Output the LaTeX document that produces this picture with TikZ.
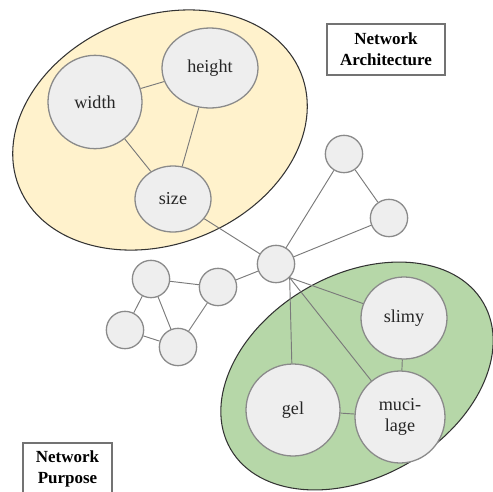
\documentclass[tikz,border=0pt]{standalone}
\usepackage{fontspec}
\setmainfont{Liberation Serif}
\usetikzlibrary{shapes.geometric}

\definecolor{archfill}{HTML}{FFF2CC}
\definecolor{purposefill}{HTML}{B6D7A8}
\definecolor{termfill}{HTML}{EEEEEE}
\definecolor{termline}{HTML}{8A8A8A}
\definecolor{linkline}{HTML}{7A7A7A}

\tikzstyle{term}=[ellipse, draw=termline, line width=1.1pt, fill=termfill, inner sep=0pt,
  font=\fontsize{15.5}{18}\selectfont, text=black!85, align=center]
\tikzstyle{dot}=[term, minimum width=1.12cm, minimum height=1.12cm]
\tikzstyle{link}=[draw=linkline, line width=0.8pt]
\tikzstyle{group}=[draw=black!80, line width=0.9pt]
\tikzstyle{tag}=[draw=black!55, line width=0.9pt, fill=white, inner sep=0pt, align=center,
  font=\fontsize{14.5}{18}\selectfont\bfseries]

\begin{document}
\begin{tikzpicture}[x=0.03cm, y=-0.03cm]
    \useasboundingbox (0,0) rectangle (493,491);

    % the two groups
    \draw [group, fill=archfill, rotate around={22:(160,130)}] (160,130) ellipse (152 and 114);
    \draw [group, fill=purposefill, rotate around={30:(357,376)}] (357,376) ellipse (146 and 101);

    % terms
    \node [term, minimum width=2.82cm, minimum height=2.8cm] (width) at (95,102) {width};
    \node [term, minimum width=2.88cm, minimum height=2.4cm] (height) at (210,68) {height};
    \node [term, minimum width=2.28cm, minimum height=1.98cm] (size) at (173,199) {size};
    \node [term, minimum width=2.58cm, minimum height=2.46cm] (slimy) at (404,318) {slimy};
    \node [term, minimum width=2.82cm, minimum height=2.76cm] (gel) at (293,410) {gel};
    \node [term, minimum width=2.7cm, minimum height=2.76cm] (mucilage) at (400,417) {muci-\\lage};

    % unlabelled nodes
    \node [dot] (hub) at (276,264) {};
    \node [dot] (top) at (344,154) {};
    \node [dot] (right) at (389,218) {};
    \node [dot] (ringa) at (151,279) {};
    \node [dot] (ringb) at (218,287) {};
    \node [dot] (ringc) at (125,330) {};
    \node [dot] (ringd) at (178,347) {};

    % links
    \draw [link] (width) -- (height);
    \draw [link] (width) -- (size);
    \draw [link] (height) -- (size);
    \draw [link] (size) -- (hub);
    \draw [link] (hub) -- (top);
    \draw [link] (hub) -- (right);
    \draw [link] (top) -- (right);
    \draw [link] (hub) -- (ringb);
    \draw [link] (ringa) -- (ringb);
    \draw [link] (ringa) -- (ringc);
    \draw [link] (ringa) -- (ringd);
    \draw [link] (ringc) -- (ringd);
    \draw [link] (ringb) -- (ringd);
    \draw [link] (hub.south east) -- (slimy);
    \draw [link] (hub.south east) -- (gel);
    \draw [link] (hub.south east) -- (mucilage);
    \draw [link] (slimy) -- (mucilage);
    \draw [link] (gel) -- (mucilage);

    % captions
    \node [tag, minimum width=3.54cm, minimum height=1.53cm] (archtag) at (386,49.5) {Network\\Architecture};
    \node [tag, minimum width=2.67cm, minimum height=1.53cm] (purposetag) at (67.5,468.5) {Network\\Purpose};
\end{tikzpicture}
\end{document}
